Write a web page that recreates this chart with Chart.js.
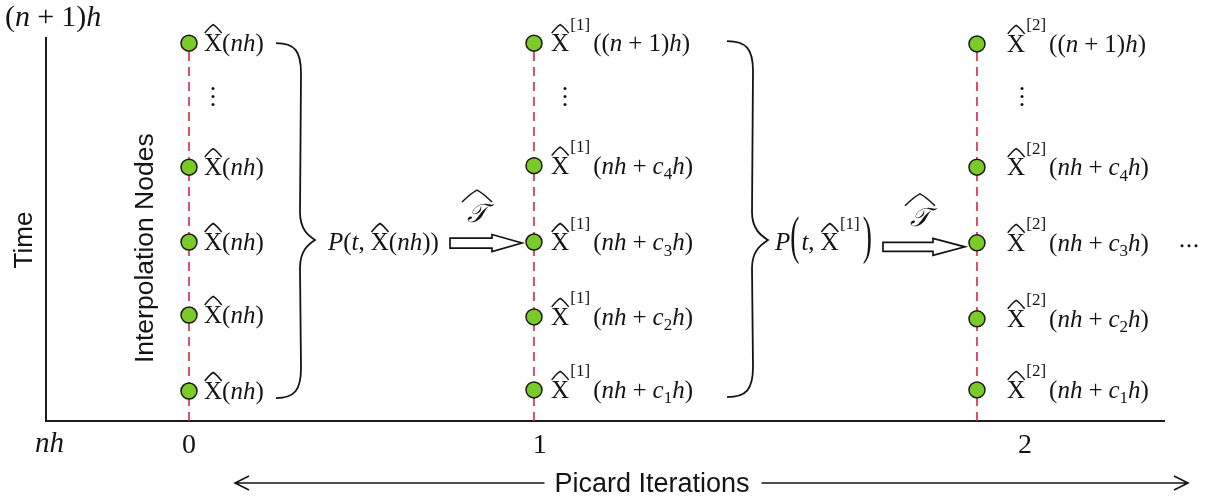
<!DOCTYPE html>
<html><head><meta charset="utf-8">
<script src="https://cdn.jsdelivr.net/npm/chart.js@4.4.0/dist/chart.umd.min.js"></script>
<style>html,body{margin:0;padding:0;background:#fff;}#wrap{width:1211px;height:502px;}</style>
</head><body><div id="wrap"><canvas id="c" width="1211" height="502"></canvas></div>
<script>
// ---- data ----
const iterationLabels = ['0', '1', '2'];
const columnPos = [0, 1, 2.284];          // iteration columns on the x axis
const tickPos = [0, 1.017, 2.423];        // where the iteration numbers sit
const timeLabels = ['nh', '(n + 1)h'];
const nodeTimes0 = [0.984, 0.661, 0.466, 0.276, 0.078];
const nodeTimes1 = [0.984, 0.665, 0.466, 0.271, 0.081];
const nodeTimes2 = [0.982, 0.661, 0.464, 0.266, 0.081];
const ellipsisTime = 0.845;
const lineTop = 1.013;
const nodeLabels0 = ['\\X(nh)', '\\X(nh)', '\\X(nh)', '\\X(nh)', '\\X(nh)'];
const nodeLabels1 = ['\\X^[1]((n + 1)h)', '\\X^[1](nh + c_4h)', '\\X^[1](nh + c_3h)', '\\X^[1](nh + c_2h)', '\\X^[1](nh + c_1h)'];
const nodeLabels2 = ['\\X^[2]((n + 1)h)', '\\X^[2](nh + c_4h)', '\\X^[2](nh + c_3h)', '\\X^[2](nh + c_2h)', '\\X^[2](nh + c_1h)'];
const interpLabels = ['P(t, \\X(nh))', 'P«t, \\X^[1]»'];

const nodeTimes = [nodeTimes0, nodeTimes1, nodeTimes2];
const nodeLabels = [nodeLabels0, nodeLabels1, nodeLabels2];

const SERIF = '"Liberation Serif","DejaVu Serif",serif';
const SANS = '"Liberation Sans", Arial, sans-serif';
const INK = '#141414';
const MS = 25; // math label size

function hat(ctx, x0, x1, yb, yt) {
  ctx.save();
  ctx.strokeStyle = INK; ctx.lineWidth = 1.5; ctx.lineJoin = 'miter';
  ctx.beginPath();
  ctx.moveTo(x0, yb);
  ctx.quadraticCurveTo((x0 + x1) / 2 - (x1 - x0) * 0.2, yt + (yb - yt) * 0.25, (x0 + x1) / 2, yt);
  ctx.quadraticCurveTo((x0 + x1) / 2 + (x1 - x0) * 0.2, yt + (yb - yt) * 0.25, x1, yb);
  ctx.stroke();
  ctx.restore();
}

function drawMath(ctx, s, x, y, size) {
  let cx = x;
  ctx.textBaseline = 'alphabetic'; ctx.textAlign = 'left'; ctx.fillStyle = INK;
  const put = (t, it, sz, dy) => {
    ctx.font = (it ? 'italic ' : '') + sz + 'px ' + SERIF;
    ctx.fillText(t, cx, y + dy);
    const w = ctx.measureText(t).width; cx += w; return w;
  };
  const bigParen = (p) => {
    ctx.save();
    ctx.font = size + 'px ' + SERIF;
    const w = ctx.measureText(p).width;
    const yc = y - size * 0.42;
    ctx.translate(cx, yc); ctx.scale(1.1, 2.1);
    ctx.fillText(p, 0, size * 0.255);
    ctx.restore();
    cx += w * 1.1 + 2;
  };
  let i = 0;
  while (i < s.length) {
    const ch = s[i];
    if (ch === '\\') {
      const start = cx; const w = put(s[i + 1], false, size, 0);
      const top = y - size * 0.662;
      hat(ctx, start + w * 0.04, start + w * 0.98, top - 1.5, top - size * 0.4);
      i += 2; continue;
    }
    if (ch === '^') {
      const end = s.indexOf(']', i);
      cx += size * 0.05;
      put(s.slice(i + 1, end + 1), false, Math.round(size * 0.68), -size * 0.86);
      cx += size * 0.12;
      i = end + 1; continue;
    }
    if (ch === '_') { put(s[i + 1], false, Math.round(size * 0.68), size * 0.22); i += 2; continue; }
    if (ch === '«') { bigParen('('); i++; continue; }
    if (ch === '»') { bigParen(')'); i++; continue; }
    if (ch === ' ') { cx += size * 0.24; i++; continue; }
    if (/[a-zA-WYZ]/.test(ch)) put(ch, true, size, 0); else put(ch, false, size, 0);
    i++;
  }
  return cx - x;
}

function hollowArrow(ctx, x0, x1, yc, shaftH, headH, headL) {
  ctx.save();
  ctx.strokeStyle = INK; ctx.fillStyle = '#fff'; ctx.lineWidth = 1.7; ctx.lineJoin = 'miter';
  const xb = x1 - headL;
  ctx.beginPath();
  ctx.moveTo(x0, yc - shaftH / 2); ctx.lineTo(xb, yc - shaftH / 2); ctx.lineTo(xb, yc - headH / 2);
  ctx.lineTo(x1, yc); ctx.lineTo(xb, yc + headH / 2); ctx.lineTo(xb, yc + shaftH / 2);
  ctx.lineTo(x0, yc + shaftH / 2); ctx.closePath();
  ctx.fill(); ctx.stroke();
  ctx.restore();
}

function brace(ctx, x0, yTop, yBot, xv, xt, ym) {
  ctx.save();
  ctx.strokeStyle = INK; ctx.lineWidth = 1.8;
  ctx.beginPath();
  ctx.moveTo(x0, yTop);
  ctx.bezierCurveTo(x0 + (xv - x0) * 0.75, yTop, xv, yTop + 8, xv, yTop + 30);
  ctx.lineTo(xv - 1, ym - 28);
  ctx.bezierCurveTo(xv - 1, ym - 10, xt - 6, ym - 4, xt, ym);
  ctx.bezierCurveTo(xt - 6, ym + 4, xv - 1, ym + 10, xv - 1, ym + 28);
  ctx.lineTo(xv, yBot - 30);
  ctx.bezierCurveTo(xv, yBot - 8, x0 + (xv - x0) * 0.75, yBot, x0, yBot);
  ctx.stroke();
  ctx.restore();
}

function scriptT(ctx, cx, base) {
  ctx.save();
  ctx.fillStyle = INK;
  ctx.font = 'italic 26px "DejaVu Serif", serif';
  ctx.textAlign = 'center'; ctx.textBaseline = 'alphabetic';
  ctx.fillText('\u{1D4AF}', cx, base);
  ctx.restore();
  hat(ctx, cx - 15, cx + 15, base - 20, base - 32);
}

const decorPlugin = {
  id: 'decor',
  beforeDatasetsDraw(chart) {
    const ctx = chart.ctx, a = chart.chartArea;
    ctx.save();
    ctx.strokeStyle = '#1c1c1c'; ctx.lineWidth = 2;
    ctx.beginPath();
    ctx.moveTo(a.left, a.top); ctx.lineTo(a.left, a.bottom); ctx.lineTo(a.right, a.bottom);
    ctx.stroke();
    ctx.restore();
  },
  afterDatasetsDraw(chart) {
    const ctx = chart.ctx, a = chart.chartArea;
    const xs = chart.scales.x, ys = chart.scales.y;
    const px = v => xs.getPixelForValue(v), py = v => ys.getPixelForValue(v);

    // node labels
    const labelOff = [15, 17, 30];
    const dotOff = [24, 31, 45];
    for (let c = 0; c < 3; c++) {
      nodeTimes[c].forEach((t, r) => {
        drawMath(ctx, nodeLabels[c][r], px(columnPos[c]) + labelOff[c], py(t) + 8, MS);
      });
      ctx.fillStyle = INK;
      const ex = px(columnPos[c]) + dotOff[c], ey = py(ellipsisTime);
      [-8, 0, 8].forEach(d => { ctx.beginPath(); ctx.arc(ex, ey + d, 1.5, 0, Math.PI * 2); ctx.fill(); });
    }

    // braces
    const bTop = py(nodeTimes0[0]), bBot = py(nodeTimes0[4]) + 7, bMid = py(nodeTimes0[2]) - 2;
    brace(ctx, px(columnPos[0]) + 87, bTop, bBot, px(columnPos[0]) + 112, px(columnPos[0]) + 126, bMid);
    brace(ctx, px(columnPos[1]) + 193, bTop - 2, bBot - 1, px(columnPos[1]) + 219, px(columnPos[1]) + 234, bMid);

    // interpolation polynomials
    drawMath(ctx, interpLabels[0], px(columnPos[0]) + 139, bMid + 10, MS);
    drawMath(ctx, interpLabels[1], px(columnPos[1]) + 241, bMid + 10, MS);

    // arrows with T-hat
    hollowArrow(ctx, px(columnPos[1]) - 84, px(columnPos[1]) - 12, py(nodeTimes1[2]) + 1, 10, 17, 30);
    hollowArrow(ctx, px(columnPos[2]) - 94, px(columnPos[2]) - 12, py(nodeTimes2[2]) + 4, 9, 17, 32);
    scriptT(ctx, px(columnPos[1]) - 57, py(nodeTimes1[2]) - 20);
    scriptT(ctx, px(columnPos[2]) - 57, py(nodeTimes2[2]) - 17);

    // trailing dots
    ctx.fillStyle = INK;
    [0, 7, 14].forEach(d => { ctx.beginPath(); ctx.arc(a.right + 17 + d, py(nodeTimes2[2]) + 3, 1.5, 0, Math.PI * 2); ctx.fill(); });

    // axis texts
    ctx.save();
    ctx.fillStyle = INK; ctx.textBaseline = 'alphabetic';
    ctx.font = '28px ' + SERIF; ctx.textAlign = 'center';
    tickPos.forEach((v, k) => ctx.fillText(iterationLabels[k], px(v), a.bottom + 32));
    ctx.restore();
    drawMath(ctx, timeLabels[0], 35, a.bottom + 31, 29);
    drawMath(ctx, timeLabels[1], 5, a.top - 11, 30);

    // rotated labels
    ctx.save();
    ctx.fillStyle = INK; ctx.textAlign = 'center'; ctx.textBaseline = 'middle';
    ctx.font = '26px ' + SANS;
    ctx.translate(25, 240); ctx.rotate(-Math.PI / 2);
    ctx.fillText('Time', 0, 0);
    ctx.restore();
    ctx.save();
    ctx.fillStyle = INK; ctx.textAlign = 'center'; ctx.textBaseline = 'middle';
    ctx.font = '26.5px ' + SANS;
    ctx.translate(146, py(0.45)); ctx.rotate(-Math.PI / 2);
    ctx.fillText('Interpolation Nodes', 0, 0);
    ctx.restore();

    // Picard Iterations double arrow
    const yA = a.bottom + 62, xL = 235, xR = 1188, tc = 652;
    ctx.save();
    ctx.font = '27px ' + SANS; ctx.fillStyle = INK; ctx.textAlign = 'center'; ctx.textBaseline = 'middle';
    const tw = ctx.measureText('Picard Iterations').width;
    ctx.fillText('Picard Iterations', tc, yA + 2);
    ctx.strokeStyle = INK; ctx.lineWidth = 1.6;
    ctx.beginPath();
    ctx.moveTo(xL, yA); ctx.lineTo(tc - tw / 2 - 10, yA);
    ctx.moveTo(tc + tw / 2 + 12, yA); ctx.lineTo(xR, yA);
    ctx.moveTo(xL + 14, yA - 7); ctx.lineTo(xL, yA); ctx.lineTo(xL + 14, yA + 7);
    ctx.moveTo(xR - 14, yA - 7); ctx.lineTo(xR, yA); ctx.lineTo(xR - 14, yA + 7);
    ctx.stroke();
    ctx.restore();
  }
};

const lineSets = columnPos.map(p => ({
  type: 'line',
  data: [{ x: p, y: 0 }, { x: p, y: lineTop }],
  borderColor: '#d9263f', borderWidth: 1.6, borderDash: [9, 6],
  pointRadius: 0, fill: false, order: 2, clip: false
}));
const nodeSets = nodeTimes.map((arr, c) => ({
  type: 'scatter',
  data: arr.map(t => ({ x: columnPos[c], y: t })),
  backgroundColor: '#7acb27', borderColor: '#1a1a1a', borderWidth: 1.5,
  pointRadius: 8, order: 1, clip: false
}));

new Chart(document.getElementById('c'), {
  type: 'scatter',
  data: { datasets: [...nodeSets, ...lineSets] },
  options: {
    responsive: false, animation: false, events: [],
    layout: { padding: { left: 46, right: 46, top: 37, bottom: 81 } },
    plugins: { legend: { display: false }, tooltip: { enabled: false } },
    scales: {
      x: { type: 'linear', display: false, min: -0.4145, max: 2.829 },
      y: { type: 'linear', display: false, min: 0, max: 1 }
    }
  },
  plugins: [decorPlugin]
});
</script></body></html>
